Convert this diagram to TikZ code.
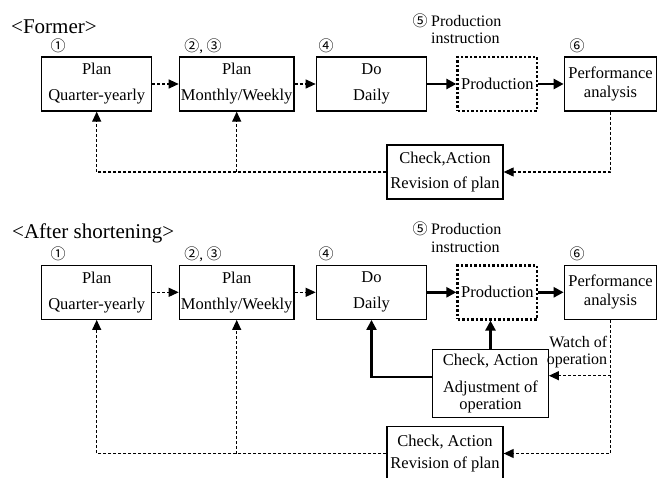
\documentclass[tikz,border=0pt]{standalone}
\usepackage{fontspec}
\setmainfont{Liberation Serif}
\newfontfamily\circfont{Noto Sans CJK JP}
\usetikzlibrary{arrows.meta,calc}

\tikzset{
  stage/.style={draw,line width=1.3pt,minimum height=54pt,inner sep=0pt,align=center,
    font=\fontsize{16.5}{17}\selectfont},
  prodbox/.style={stage,line width=2.6pt,dash pattern=on 2.6pt off 1.9pt},
  dotarrow/.style={dash pattern=on 3pt off 2pt,line width=1.1pt,-{Triangle[length=10pt,width=9pt]}},
  thickarrow/.style={line width=2.6pt,-{Triangle[length=10pt,width=10pt]}},
  num/.style={font=\circfont\fontsize{15}{15}\selectfont,inner sep=0pt},
  note/.style={font=\fontsize{16}{17.5}\selectfont,inner sep=0pt},
  title/.style={font=\fontsize{21}{21}\selectfont,inner sep=0pt,anchor=west}
}

\begin{document}
\begin{tikzpicture}[x=1pt,y=-1pt]
    \useasboundingbox (0,0) rectangle (661,478);
    \node[title] (ta) at (11,27) {<Former>};
    \node[title] (tb) at (12,233) {<After shortening>};
    % same chain in both rows
    \foreach \r/\d in {a/0,b/208.3}{
      \node[num] (n1\r) at (58,46+\d) {①};
      \node[num] (n2\r) at (203,46+\d) {②{\rmfamily,} ③};
      \node[num] (n4\r) at (326,46+\d) {④};
      \node[num] (n5\r) at (420,21+\d) {⑤};
      \node[note,align=left,anchor=west] (ins\r) at (431,29.5+\d) {Production\\instruction};
      \node[num] (n6\r) at (577,46+\d) {⑥};
      \node[stage,minimum width=110pt] (p1\r) at (96.7,84+\d) {Plan\\[9pt]Quarter-yearly};
      \node[stage,minimum width=114.7pt] (p2\r) at (236.7,84+\d) {Plan\\[9pt]Monthly/Weekly};
      \node[stage,minimum width=110.4pt] (do\r) at (371.5,84+\d) {Do\\[9pt]Daily};
      \node[prodbox,minimum width=79.3pt] (prod\r) at (497.3,84+\d) {Production};
      \node[stage,minimum width=92.4pt] (perf\r) at (610.5,84+\d) {Performance\\[2pt]analysis};
      \draw[dotarrow] (p1\r) -- (p2\r);
      \draw[dotarrow] (p2\r) -- (do\r);
      \draw[thickarrow] (do\r) -- (prod\r);
      \draw[thickarrow] (prod\r) -- (perf\r);
    }
    % former: one loop back to the plans
    \node[stage,minimum width=116pt] (reva) at (445,172) {Check,Action\\[8pt]Revision of plan};
    \draw[dotarrow] (perfa.south) |- (reva.east);
    \draw[dotarrow] (reva.west) -| (p1a.south);
    \draw[dotarrow] (reva.west -| p2a.south) -- (p2a.south);
    % after shortening: extra loop on the shop floor
    \node[stage,minimum width=115.6pt,minimum height=68pt] (adj) at (490.5,383.3)
      {Check, Action\\[10pt]Adjustment of\\operation};
    \node[note,align=right] (watch) at (577,352) {Watch of\\operation};
    \node[stage,minimum width=116pt] (revb) at (445,453.5) {Check, Action\\[5pt]Revision of plan};
    \coordinate (wt) at ($(adj.east)+(0,-7.6)$);
    \coordinate (ad) at ($(adj.west)+(0,-6.6)$);
    \draw[thickarrow] (adj.north) -- (adj.north |- prodb.south);
    \draw[thickarrow,line width=2.2pt] (ad) -| (dob.south);
    \draw[dotarrow] (perfb.south |- wt) -- (wt);
    \draw[dotarrow] (perfb.south) |- (revb.east);
    \draw[dotarrow] (revb.west) -| (p1b.south);
    \draw[dotarrow] (revb.west -| p2b.south) -- (p2b.south);
\end{tikzpicture}
\end{document}
